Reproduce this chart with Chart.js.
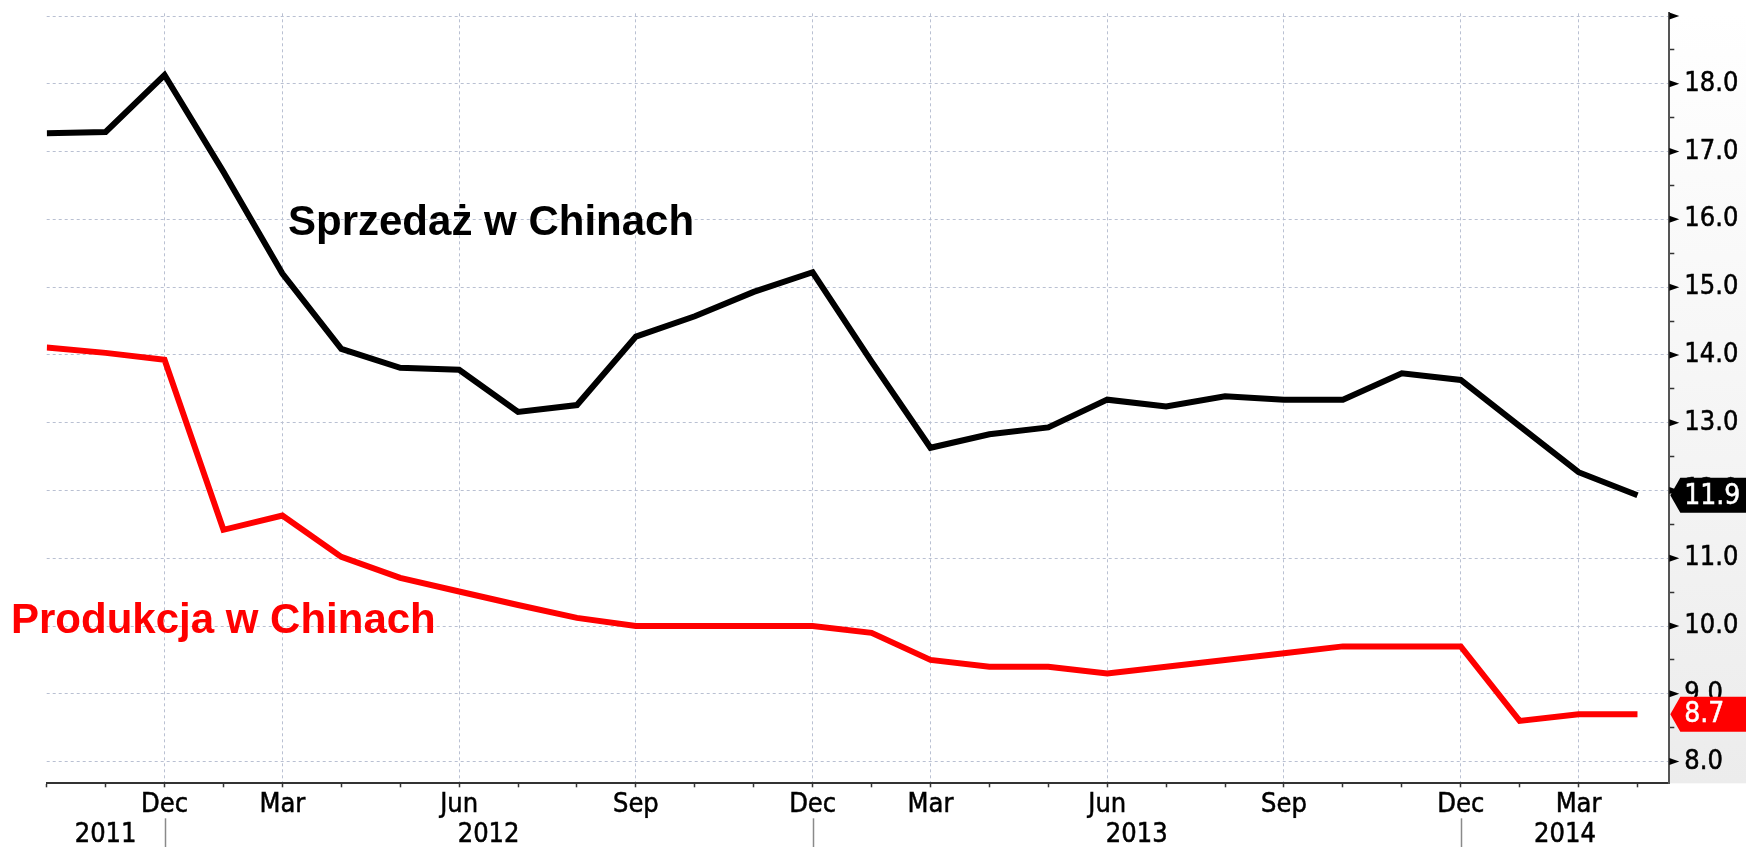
<!DOCTYPE html>
<html lang="pl">
<head>
    <meta charset="UTF-8">
    <title>Sprzedaż i produkcja w Chinach</title>
    <script src="https://cdnjs.cloudflare.com/ajax/libs/Chart.js/4.4.1/chart.umd.min.js"></script>
    <style>
        * { margin: 0; padding: 0; box-sizing: border-box; }
        body { background: #ffffff; width: 1746px; height: 847px; overflow: hidden; }
        canvas { display: block; }
    </style>
</head>
<body>
    <canvas id="chinaChart" width="1746" height="847"></canvas>

    <script>
        // dane (Jan+Feb are reported together, so there is no January point)
        const months = ['Oct', 'Nov', 'Dec', 'Feb', 'Mar', 'Apr', 'May', 'Jun', 'Jul', 'Aug', 'Sep', 'Oct', 'Nov', 'Dec',
                        'Feb', 'Mar', 'Apr', 'May', 'Jun', 'Jul', 'Aug', 'Sep', 'Oct', 'Nov', 'Dec', 'Feb', 'Mar', 'Apr'];
        const years = [2011, 2011, 2011, 2012, 2012, 2012, 2012, 2012, 2012, 2012, 2012, 2012, 2012, 2012,
                       2013, 2013, 2013, 2013, 2013, 2013, 2013, 2013, 2013, 2013, 2013, 2014, 2014, 2014];
        const sales = [17.27, 17.29, 18.13, 16.7, 15.2, 14.09, 13.81, 13.78, 13.16, 13.26, 14.27, 14.57, 14.93, 15.22,
                       13.9, 12.63, 12.83, 12.93, 13.34, 13.24, 13.39, 13.34, 13.34, 13.73, 13.63, 12.95, 12.27, 11.93];
        const production = [14.11, 14.03, 13.93, 11.42, 11.63, 11.02, 10.71, 10.51, 10.31, 10.12, 10.0, 10.0, 10.0, 10.0,
                            9.9, 9.5, 9.4, 9.4, 9.3, 9.4, 9.5, 9.6, 9.7, 9.7, 9.7, 8.6, 8.7, 8.7];
        const shownMonths = ['Mar', 'Jun', 'Sep', 'Dec'];
        const yTicks = [8, 8.5, 9, 9.5, 10, 10.5, 11, 11.5, 12, 12.5, 13, 13.5, 14, 14.5, 15, 15.5, 16, 16.5, 17, 17.5, 18, 18.5, 19];

        const X_MAX = 27.54;
        const GRID = '#b9c0d2';
        const TICK_FONT = { family: '"DejaVu Sans Condensed", "DejaVu Sans", sans-serif', size: 27, lineHeight: 1 };

        // year boundaries sit on the December ticks
        const yearBreaks = months.map((m, i) => m === 'Dec' ? i : -1).filter(i => i >= 0);
        const yearLabels = [...new Set(years)];
        const bounds = [0, ...yearBreaks, X_MAX];
        const yearCenters = yearLabels.map((yr, k) => (bounds[k] + bounds[k + 1]) / 2);

        const decor = {
            id: 'decor',
            beforeDraw(chart) {
                const { ctx, chartArea: a, width } = chart;
                ctx.save();
                ctx.fillStyle = '#ffffff';
                ctx.fillRect(0, 0, chart.width, chart.height);
                const g = ctx.createLinearGradient(0, a.top, 0, a.bottom);
                g.addColorStop(0, '#ffffff');
                g.addColorStop(1, '#ececec');
                ctx.fillStyle = g;
                ctx.fillRect(a.right, a.top, width - a.right, a.bottom - a.top);
                ctx.restore();
            },
            afterDraw(chart) {
                const { ctx, chartArea: a, scales: { x, y } } = chart;
                ctx.save();

                // strzałki przy pełnych wartościach
                ctx.fillStyle = '#000';
                y.ticks.forEach(t => {
                    if (!Number.isInteger(t.value)) return;
                    const py = y.getPixelForValue(t.value);
                    ctx.beginPath();
                    ctx.moveTo(a.right, py - 3.5);
                    ctx.lineTo(a.right + 10, py);
                    ctx.lineTo(a.right, py + 3.5);
                    ctx.closePath();
                    ctx.fill();
                });

                // separatory lat
                ctx.strokeStyle = '#8a8a8a';
                ctx.lineWidth = 1.5;
                yearBreaks.forEach(i => {
                    const px = Math.round(x.getPixelForValue(i)) + 0.5;
                    ctx.beginPath();
                    ctx.moveTo(px, x.bottom);
                    ctx.lineTo(px, chart.height);
                    ctx.stroke();
                });

                // etykiety ostatnich wartości
                const tag = (value, color) => {
                    const py = y.getPixelForValue(value);
                    const h = 35;
                    ctx.fillStyle = color;
                    ctx.beginPath();
                    ctx.moveTo(a.right + 1, py);
                    ctx.lineTo(a.right + 11, py - h / 2);
                    ctx.lineTo(chart.width, py - h / 2);
                    ctx.lineTo(chart.width, py + h / 2);
                    ctx.lineTo(a.right + 11, py + h / 2);
                    ctx.closePath();
                    ctx.fill();
                    ctx.fillStyle = '#ffffff';
                    ctx.strokeStyle = '#ffffff';
                    ctx.lineWidth = 0.5;
                    ctx.font = '28px "DejaVu Sans Condensed", "DejaVu Sans", sans-serif';
                    ctx.textAlign = 'left';
                    ctx.textBaseline = 'middle';
                    ctx.fillText(value.toFixed(1), a.right + 15, py + 1);
                    ctx.strokeText(value.toFixed(1), a.right + 15, py + 1);
                };
                tag(sales[sales.length - 1], '#000000');
                tag(production[production.length - 1], '#ff0000');

                // opisy serii
                ctx.font = 'bold 42px "Liberation Sans", Arial, sans-serif';
                ctx.textAlign = 'left';
                ctx.textBaseline = 'alphabetic';
                ctx.fillStyle = '#000000';
                ctx.fillText('Sprzedaż w Chinach', 288, 235);
                ctx.fillStyle = '#ff0000';
                ctx.fillText('Produkcja w Chinach', 11, 633);

                ctx.restore();
            }
        };

        const config = {
            type: 'line',
            data: {
                datasets: [
                    {
                        label: 'Sprzedaż w Chinach',
                        data: sales.map((v, i) => ({ x: i, y: v })),
                        borderColor: '#000000',
                        borderWidth: 6,
                        pointRadius: 0,
                        tension: 0
                    },
                    {
                        label: 'Produkcja w Chinach',
                        data: production.map((v, i) => ({ x: i, y: v })),
                        borderColor: '#ff0000',
                        borderWidth: 6,
                        pointRadius: 0,
                        tension: 0
                    }
                ]
            },
            options: {
                responsive: false,
                animation: false,
                devicePixelRatio: 1,
                layout: { padding: { left: 46.7, top: 13.3, right: 0, bottom: 0 } },
                plugins: {
                    legend: { display: false },
                    tooltip: { enabled: false }
                },
                scales: {
                    x: {
                        type: 'linear',
                        position: 'bottom',
                        weight: 0,
                        min: 0,
                        max: X_MAX,
                        afterBuildTicks: (scale) => {
                            scale.ticks = months.map((m, i) => ({ value: i }));
                        },
                        afterFit: (scale) => {
                            scale.height = 35;
                            scale.paddingLeft = 0;
                            scale.paddingRight = 0;
                        },
                        ticks: {
                            autoSkip: false,
                            maxRotation: 0,
                            padding: 4,
                            color: '#000000',
                            textStrokeColor: '#000000',
                            textStrokeWidth: 0.5,
                            font: TICK_FONT,
                            callback: (value) => shownMonths.includes(months[value]) ? months[value] : ''
                        },
                        grid: {
                            color: (c) => c.tick && shownMonths.includes(months[c.tick.value]) ? GRID : 'rgba(0,0,0,0)',
                            lineWidth: 1,
                            tickColor: '#333333',
                            tickLength: 4,
                            tickWidth: 1.5,
                            tickBorderDash: []
                        },
                        border: { display: true, color: '#333333', width: 2, dash: [3, 3] }
                    },
                    x2: {
                        type: 'linear',
                        position: 'bottom',
                        weight: 1,
                        min: 0,
                        max: X_MAX,
                        afterBuildTicks: (scale) => {
                            scale.ticks = yearCenters.map(v => ({ value: v }));
                        },
                        afterFit: (scale) => {
                            scale.height = 28.7;
                            scale.paddingLeft = 0;
                            scale.paddingRight = 0;
                        },
                        ticks: {
                            autoSkip: false,
                            maxRotation: 0,
                            padding: 3,
                            color: '#000000',
                            textStrokeColor: '#000000',
                            textStrokeWidth: 0.5,
                            font: TICK_FONT,
                            callback: (value, index) => String(yearLabels[index])
                        },
                        grid: { display: false, drawTicks: false },
                        border: { display: false }
                    },
                    y: {
                        type: 'linear',
                        position: 'right',
                        min: 7.68,
                        max: 19.04,
                        afterBuildTicks: (scale) => {
                            scale.ticks = yTicks.map(v => ({ value: v }));
                        },
                        afterFit: (scale) => {
                            scale.width = 76.7;
                            scale.paddingTop = 0;
                            scale.paddingBottom = 0;
                        },
                        ticks: {
                            padding: 10,
                            color: '#000000',
                            textStrokeColor: '#000000',
                            textStrokeWidth: 0.5,
                            font: TICK_FONT,
                            callback: (value) => Number.isInteger(value) && value < 19 ? value.toFixed(1) : ''
                        },
                        grid: {
                            color: (c) => c.tick && Number.isInteger(c.tick.value) ? GRID : 'rgba(0,0,0,0)',
                            lineWidth: 1,
                            tickColor: (c) => c.tick && Number.isInteger(c.tick.value) ? 'rgba(0,0,0,0)' : '#333333',
                            tickLength: 5,
                            tickWidth: 1.5,
                            tickBorderDash: []
                        },
                        border: { display: true, color: '#555555', width: 2, dash: [3, 3] }
                    }
                }
            },
            plugins: [decor]
        };

        const ctx = document.getElementById('chinaChart').getContext('2d');
        const chart = new Chart(ctx, config);
    </script>
</body>
</html>
